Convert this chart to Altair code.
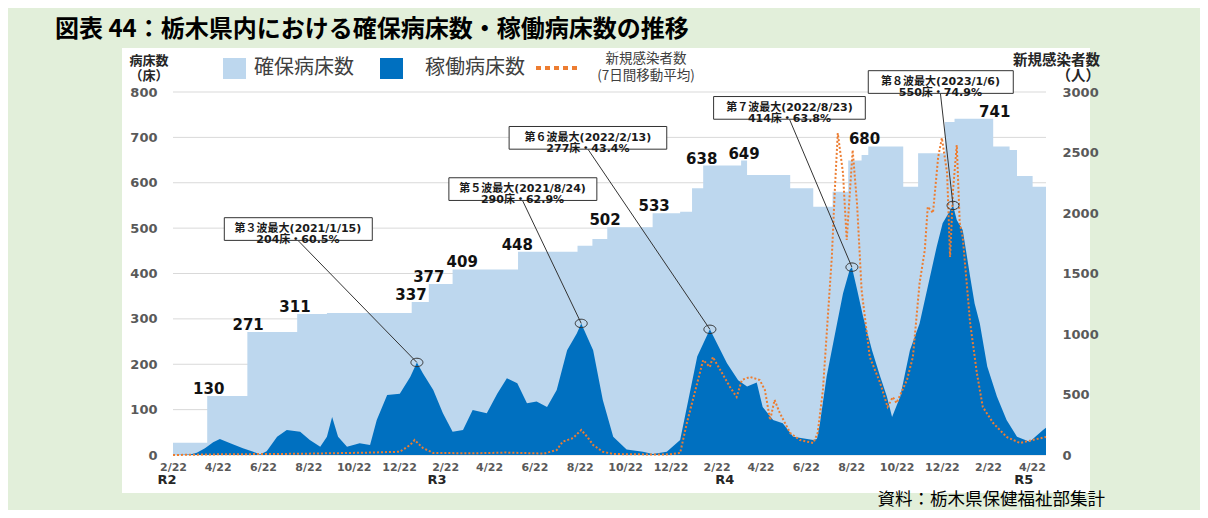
import altair as alt
import pandas as pd

JP = "Noto Sans CJK JP"
NUM = "DejaVu Sans"
MIX = "DejaVu Sans, Noto Sans CJK JP"

# ---------------- data ----------------
secured_dates = ["2020-02-22", "2020-04-08", "2020-06-01", "2020-08-07", "2020-09-16",
                 "2021-01-08", "2021-01-31", "2021-03-04", "2021-05-31", "2021-08-19",
                 "2021-09-08", "2021-09-28", "2021-11-28", "2022-01-04", "2022-01-20",
                 "2022-02-04", "2022-03-27", "2022-04-04", "2022-06-01", "2022-07-02",
                 "2022-07-28", "2022-08-18", "2022-09-05", "2022-09-14", "2022-10-31",
                 "2022-11-20", "2022-12-26", "2023-01-08", "2023-03-01", "2023-03-23",
                 "2023-04-02", "2023-04-23", "2023-05-11"]
secured_beds = [27, 130, 271, 311, 313,
                337, 377, 409, 448, 461,
                476, 502, 533, 536, 588,
                638, 649, 617, 588, 547,
                580, 649, 661, 680, 591,
                665, 734, 741, 680, 672,
                615, 591, 591]

occupied_dates = ["2020-02-22", "2020-03-16", "2020-03-25", "2020-04-05", "2020-04-16",
                  "2020-04-25", "2020-05-09", "2020-05-26", "2020-06-09", "2020-06-18",
                  "2020-06-27", "2020-07-11", "2020-07-24", "2020-08-11", "2020-08-24",
                  "2020-09-07", "2020-09-16", "2020-09-23", "2020-10-01", "2020-10-13",
                  "2020-10-30", "2020-11-13", "2020-11-22", "2020-12-06", "2020-12-23",
                  "2021-01-06", "2021-01-15", "2021-01-23", "2021-02-06", "2021-02-19",
                  "2021-03-04", "2021-03-18", "2021-03-31", "2021-04-19", "2021-05-03",
                  "2021-05-16", "2021-05-30", "2021-06-12", "2021-06-25", "2021-07-09",
                  "2021-07-22", "2021-08-05", "2021-08-18", "2021-08-24", "2021-09-09",
                  "2021-09-22", "2021-10-06", "2021-10-24", "2021-11-15", "2021-11-28",
                  "2021-12-17", "2022-01-04", "2022-01-27", "2022-02-13", "2022-03-08",
                  "2022-03-23", "2022-04-04", "2022-04-17", "2022-04-25", "2022-05-09",
                  "2022-05-22", "2022-06-05", "2022-07-02", "2022-07-07", "2022-07-11",
                  "2022-07-20", "2022-08-03", "2022-08-11", "2022-08-20", "2022-08-23",
                  "2022-08-30", "2022-09-07", "2022-09-19", "2022-09-30", "2022-10-09",
                  "2022-10-16", "2022-10-27", "2022-11-09", "2022-11-22", "2022-12-06",
                  "2022-12-15", "2022-12-23", "2023-01-06", "2023-01-11", "2023-01-19",
                  "2023-01-29", "2023-02-04", "2023-02-11", "2023-02-21", "2023-03-06",
                  "2023-03-19", "2023-04-02", "2023-04-19", "2023-05-07", "2023-05-11"]
occupied_beds = [0, 1, 5, 15, 28,
                 35, 26, 15, 7, 1,
                 8, 40, 55, 51, 33,
                 18, 40, 84, 40, 18,
                 26, 22, 77, 132, 135,
                 172, 204, 180, 143, 92,
                 51, 55, 99, 92, 135,
                 169, 158, 114, 118, 106,
                 143, 231, 268, 290, 231,
                 121, 40, 12, 7, 2,
                 7, 33, 217, 277, 202,
                 165, 151, 160, 106, 77,
                 70, 40, 33, 35, 70,
                 173, 290, 356, 408, 414,
                 364, 305, 231, 173, 129,
                 84, 129, 231, 290, 393,
                 459, 511, 550, 518, 496,
                 393, 334, 290, 195, 129,
                 77, 40, 29, 55, 60]

case_dates = ["2020-02-22", "2020-04-15", "2020-08-10", "2020-11-15", "2020-12-23",
              "2021-01-06", "2021-01-12", "2021-01-23", "2021-02-06", "2021-04-01",
              "2021-05-15", "2021-07-05", "2021-07-22", "2021-07-30", "2021-08-13",
              "2021-08-24", "2021-09-01", "2021-09-09", "2021-09-22", "2021-10-06",
              "2021-12-15", "2022-01-04", "2022-01-13", "2022-01-27", "2022-02-04",
              "2022-02-13", "2022-02-17", "2022-02-27", "2022-03-12", "2022-03-21",
              "2022-03-28", "2022-04-08", "2022-04-21", "2022-04-28", "2022-05-05",
              "2022-05-11", "2022-05-18", "2022-06-01", "2022-06-14", "2022-07-02",
              "2022-07-08", "2022-07-15", "2022-07-27", "2022-07-31", "2022-08-04",
              "2022-08-11", "2022-08-16", "2022-08-24", "2022-08-30", "2022-09-05",
              "2022-09-16", "2022-09-30", "2022-10-10", "2022-10-17", "2022-10-22",
              "2022-11-05", "2022-11-13", "2022-11-22", "2022-11-29", "2022-12-03",
              "2022-12-10", "2022-12-17", "2022-12-22", "2022-12-29", "2023-01-02",
              "2023-01-06", "2023-01-11", "2023-01-15", "2023-01-19", "2023-01-29",
              "2023-02-07", "2023-02-15", "2023-03-01", "2023-03-19", "2023-04-06",
              "2023-04-23", "2023-05-11"]
case_avg = [0, 5, 10, 20, 27,
            83, 124, 58, 17, 14,
            20, 12, 41, 110, 140,
            207, 151, 83, 27, 8,
            3, 16, 264, 595, 785,
            727, 810, 702, 562, 479,
            620, 645, 620, 537, 289,
            455, 347, 182, 124, 99,
            182, 537, 1636, 2190, 2661,
            2330, 1777, 2520, 2066, 1364,
            810, 595, 397, 479, 430,
            620, 810, 1421, 1694, 2052,
            2000, 2463, 2620, 2330, 1636,
            2190, 2562, 1917, 1800, 1091,
            678, 397, 264, 149, 99,
            124, 149]

label_dates = ["2020-04-10", "2020-06-02", "2020-08-04", "2021-01-07", "2021-01-31",
               "2021-03-17", "2021-05-30", "2021-09-25", "2021-11-30", "2022-02-02",
               "2022-03-31", "2022-09-09", "2023-03-03"]
label_values = [130, 271, 311, 337, 377, 409, 448, 502, 533, 638, 649, 680, 741]

peak_names = ["第３波最大(2021/1/15)", "第５波最大(2021/8/24)", "第６波最大(2022/2/13)",
              "第７波最大(2022/8/23)", "第８波最大(2023/1/6)"]
peak_dates = ["2021-01-15", "2021-08-24", "2022-02-13", "2022-08-23", "2023-01-06"]
peak_beds = [204, 290, 277, 414, 550]
peak_rates = ["60.5%", "62.9%", "43.4%", "63.8%", "74.9%"]
box_left = ["2020-05-01", "2021-02-27", "2021-05-19", "2022-02-18", "2022-09-14"]
box_right = ["2020-11-16", "2021-09-14", "2021-12-17", "2022-09-10", "2023-03-28"]
box_top = [523, 611, 724, 790, 847]
box_bottom = [473, 561, 674, 740, 797]

fy_labels = ["R2", "R3", "R4", "R5"]
fy_dates = ["2020-02-14", "2021-02-11", "2022-03-05", "2023-04-11"]

tick_dates = ["2020-02-22", "2020-04-22", "2020-06-22", "2020-08-22", "2020-10-22",
              "2020-12-22", "2021-02-22", "2021-04-22", "2021-06-22", "2021-08-22",
              "2021-10-22", "2021-12-22", "2022-02-22", "2022-04-22", "2022-06-22",
              "2022-08-22", "2022-10-22", "2022-12-22", "2023-02-22", "2023-04-22"]
left_ticks = [0, 100, 200, 300, 400, 500, 600, 700, 800]
right_ticks = [0, 500, 1000, 1500, 2000, 2500, 3000]
x_start, x_end = "2020-02-22", "2023-05-11"

# ---------------- tables ----------------
df_sec = pd.DataFrame({"date": secured_dates, "beds": secured_beds})
df_occ = pd.DataFrame({"date": occupied_dates, "beds": occupied_beds})
df_cases = pd.DataFrame({"date": case_dates, "cases": case_avg})
df_lab = pd.DataFrame({"date": label_dates, "v": label_values})
df_fy = pd.DataFrame({"date": fy_dates, "label": fy_labels})
df_grid = pd.DataFrame({"v": left_ticks})
ann = pd.DataFrame({"left": box_left, "right": box_right, "top": box_top,
                    "bottom": box_bottom, "peak": peak_dates, "beds": peak_beds,
                    "label": peak_names, "rate": peak_rates})
lt = pd.to_datetime(ann["left"])
rt = pd.to_datetime(ann["right"])
ann["mid"] = (lt + (rt - lt) / 2).dt.strftime("%Y-%m-%d")
ann["cy"] = (ann["top"] + ann["bottom"]) / 2
ann["text"] = ann["label"] + "\n" + ann["beds"].astype(str) + "床・" + ann["rate"]
one = pd.DataFrame({"k": [0]})


def utc(s):
    y, m, d = (int(p) for p in s.split("-"))
    return alt.DateTime(year=y, month=m, date=d, utc=True)


x_scale = alt.Scale(type="utc", domain=[utc(x_start), utc(x_end)], nice=False)
y_scale = alt.Scale(domain=[0, 800], nice=False)

x_axis = alt.Axis(values=[utc(d) for d in tick_dates], format="%-m/%d",
                  labelFont=NUM, labelFontSize=11, labelFontWeight="bold",
                  labelColor="#595959", labelPadding=6, ticks=False, domain=False,
                  grid=False, labelFlush=False, labelOverlap=False, zindex=1)
left_axis = alt.Axis(orient="left", values=left_ticks, grid=False, format="d",
                     domain=False, ticks=False, labelPadding=16, labelFont=NUM,
                     labelFontSize=13, labelFontWeight="bold", labelColor="#595959",
                     labelFlush=False, zindex=1)
right_axis = alt.Axis(orient="right", values=right_ticks, grid=False, format="d",
                      domain=False, ticks=False, labelPadding=16, labelFont=NUM,
                      labelFontSize=13, labelFontWeight="bold", labelColor="#595959",
                      labelFlush=False, zindex=1)


def xenc(field, axis=None):
    if axis is None:
        return alt.X(f"{field}:T", scale=x_scale, title=None)
    return alt.X(f"{field}:T", scale=x_scale, axis=axis, title=None)


def yenc(field, axis=None):
    return alt.Y(f"{field}:Q", scale=y_scale, axis=axis, title=None)


def px_rect(x1, x2, y1, y2, color):
    return alt.Chart(one).mark_rect(color=color).encode(
        x=alt.value(x1), x2=alt.value(x2), y=alt.value(y1), y2=alt.value(y2))


def deco_text(txt, x, y, size, weight="normal", color="#000000", align="center",
              font=JP, baseline="middle", line_height=None):
    kw = dict(text=txt, fontSize=size, fontWeight=weight, color=color, align=align,
              baseline=baseline, font=font)
    if line_height is not None:
        kw["lineBreak"] = "\n"
        kw["lineHeight"] = line_height
    return alt.Chart(one).mark_text(**kw).encode(x=alt.value(x), y=alt.value(y))


# white panel behind the whole chart
panel = px_rect(-51, 917, -44, 401, "white")

grid = alt.Chart(df_grid).mark_rule(color="#D9D9D9", strokeWidth=1).encode(
    y=yenc("v"), x=alt.value(0), x2=alt.value(873))

sec = alt.Chart(df_sec).mark_area(interpolate="step-after", color="#BDD7EE").encode(
    x=xenc("date", x_axis), y=yenc("beds", left_axis))
occ = alt.Chart(df_occ).mark_area(color="#0070C0").encode(
    x=xenc("date"), y=yenc("beds"))
cases = alt.Chart(df_cases).mark_line(color="#ED7D31", strokeWidth=2,
                                      strokeDash=[2, 2]).encode(
    x=xenc("date"),
    y=alt.Y("cases:Q", scale=alt.Scale(domain=[0, 3000], nice=False), axis=right_axis,
            title=None))
labels = alt.Chart(df_lab).mark_text(font=NUM, fontSize=15, fontWeight="bold",
                                     color="#111111", baseline="alphabetic",
                                     dy=-2).encode(
    x=xenc("date"), y=yenc("v"), text=alt.Text("v:Q"))
leaders = alt.Chart(ann).mark_rule(color="#333333", strokeWidth=1).encode(
    x=xenc("mid"), y=yenc("bottom"), x2=alt.X2("peak"), y2=alt.Y2("beds"))
ELLIPSE = "M-1,0A1,0.7 0 0,1 1,0A1,0.7 0 0,1 -1,0Z"
circles = alt.Chart(ann).mark_point(shape=ELLIPSE, size=144, filled=False,
                                    color="#333333", strokeWidth=1, opacity=1).encode(
    x=xenc("peak"), y=yenc("beds"))
boxes = alt.Chart(ann).mark_rect(fill="white", stroke="#333333", strokeWidth=1).encode(
    x=xenc("left"), x2=alt.X2("right"), y=yenc("top"), y2=alt.Y2("bottom"))
boxtext = alt.Chart(ann).mark_text(font=MIX, fontSize=11, fontWeight="bold",
                                   lineBreak="\n", lineHeight=11, color="#1a1a1a",
                                   align="center", baseline="middle").encode(
    x=xenc("mid"), y=yenc("cy"), text=alt.Text("text:N"))
fy = alt.Chart(df_fy).mark_text(font=NUM, fontSize=13, fontWeight="bold",
                                color="#262626", align="center",
                                baseline="middle").encode(
    x=xenc("date"), y=alt.value(388), text=alt.Text("label:N"))

decos = [
    deco_text("図表 44：栃木県内における確保病床数・稼働病床数の推移", -118, -62, 24,
              weight="bold", align="left"),
    deco_text("病床数\n（床）", -24, -31, 13, weight="bold", color="#262626",
              line_height=14.5),
    deco_text("新規感染者数\n（人）", 927, -31, 14.5, weight="bold", color="#262626",
              align="right", line_height=15.5),
    px_rect(50, 73, -34, -13, "#BDD7EE"),
    deco_text("確保病床数", 81, -24, 20, color="#404040", align="left"),
    px_rect(207, 230, -34, -13, "#0070C0"),
    deco_text("稼働病床数", 252, -24, 20, color="#404040", align="left"),
    alt.Chart(one).mark_rule(color="#ED7D31", strokeWidth=4, strokeDash=[5, 4]).encode(
        x=alt.value(363), x2=alt.value(407), y=alt.value(-24)),
    deco_text("新規感染者数\n(7日間移動平均)", 473, -33, 13.5, color="#404040",
              line_height=17),
    deco_text("資料：栃木県保健福祉部集計", 932, 413, 17.5, color="#000000",
              align="right", baseline="alphabetic"),
]

chart = alt.layer(
    panel, grid, sec, occ, cases, labels, leaders, circles, boxes, boxtext, fy, *decos
).resolve_scale(
    y="independent"
).properties(
    width=873, height=363,
    autosize=alt.AutoSizeParams(type="none"),
    padding={"left": 165, "top": 84, "right": 154, "bottom": 55},
    background="#E2EFDA",
).configure_view(stroke=None)

chart.save("out.html", embed_options={"renderer": "svg", "actions": False})
